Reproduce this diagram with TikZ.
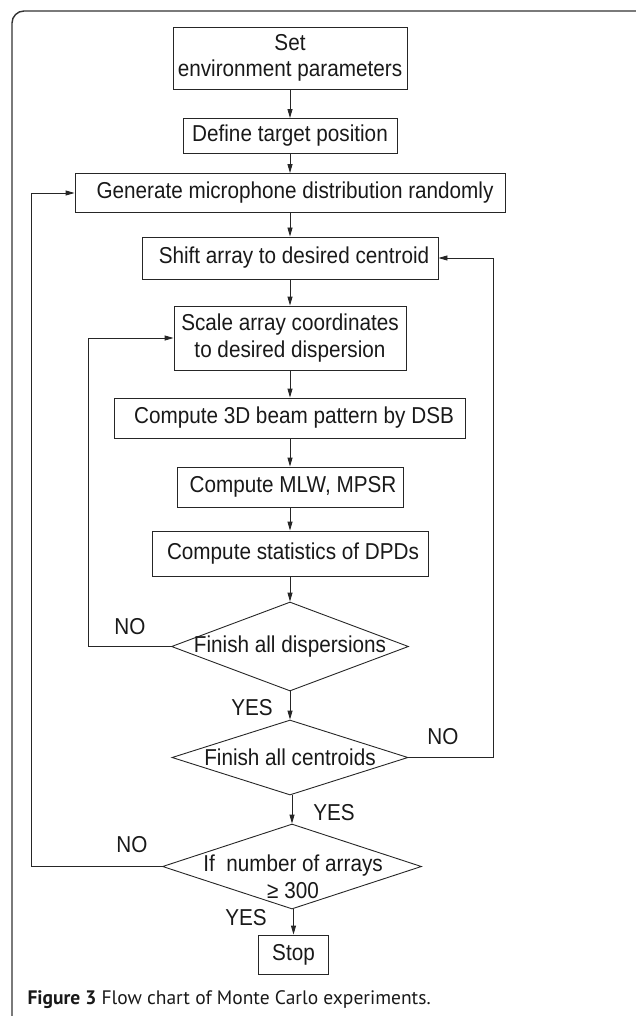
\documentclass[tikz,border=0pt]{standalone}
\usepackage{fontspec}
\setmainfont{Liberation Sans}
\newfontfamily\flowfont[FakeStretch=0.9]{Liberation Sans}
\newfontfamily\capfont{PT Sans}
\usetikzlibrary{shapes.geometric,arrows.meta}

\begin{document}
\begin{tikzpicture}[x=1pt, y=-1pt,
        every node/.style={font=\flowfont\fontsize{23}{26.5}\selectfont, text=black!90},
        box/.style={draw=black!85, line width=0.9pt, inner sep=0pt, align=center},
        decide/.style={draw=black!85, line width=0.9pt, diamond, inner sep=0pt},
        flow/.style={draw=black!85, line width=0.9pt, -{Triangle[length=9pt,width=5pt]}}]
        \useasboundingbox (0,0) rectangle (636,1016);
        % frame
        \begin{scope}
            \clip (0,0) rectangle (636,1016);
            \draw[line width=1.4pt, black!80, rounded corners=12pt] (12,11) rectangle (650,1040);
        \end{scope}

        \node[name=env, box, minimum width=234, minimum height=62] at (290,58) {Set\\environment parameters};
        \node[name=target, box, minimum width=214, minimum height=35] at (290,136) {Define target position};
        \node[name=gen, box, minimum width=430, minimum height=39] at (290,193) {\hspace{10pt}Generate microphone distribution randomly};
        \node[name=shift, box, minimum width=296, minimum height=42] at (290,258) {\hspace{8pt}Shift array to desired centroid};
        \node[name=scale, box, minimum width=232, minimum height=64] at (290,338) {Scale array coordinates\\to desired dispersion};
        \node[name=beam, box, minimum width=351, minimum height=40] at (290,418) {\hspace{8pt}Compute 3D beam pattern by DSB};
        \node[name=mlw, box, minimum width=226, minimum height=40] at (290,487) {\hspace{6pt}Compute MLW, MPSR};
        \node[name=stats, box, minimum width=276, minimum height=45] at (290,553.5) {\hspace{6pt}Compute statistics of DPDs};
        \node[name=fin1, decide, minimum width=237, minimum height=89] at (290,646.5) {};
        \node[name=fin1txt] at (fin1) {Finish all dispersions};
        \node[name=fin2, decide, minimum width=236, minimum height=75] at (290,757.5) {};
        \node[name=fin2txt] at (fin2) {Finish all centroids};
        \node[name=fin3, decide, minimum width=259, minimum height=85] at (292,866.5) {};
        \node[name=fin3txt, align=center] at (293,877) {If~ number of arrays\\≥ 300};
        \node[name=stop, box, minimum width=70, minimum height=39] at (293.5,954.5) {Stop};

        % straight arrows
        \foreach \a/\b in {env/target, target/gen, gen/shift, shift/scale, scale/beam,
                beam/mlw, mlw/stats, stats/fin1, fin1/fin2, fin2/fin3, fin3/stop}
            \draw[flow] (\b.north |- \a.south) -- (\b.north);

        % loops back
        \draw[flow] (fin1.west) -- ++(-83,0) |- (scale.west);
        \draw[flow] (fin2.east) -- ++(85,0) |- (shift.east);
        \draw[flow] (fin3.west) -- ++(-131,0) |- (gen.west);

        \node[name=no1] at (130,627) {NO};
        \node[name=yes1] at (252,708) {YES};
        \node[name=no2] at (443,737) {NO};
        \node[name=yes2] at (334,813) {YES};
        \node[name=no3] at (132,845) {NO};
        \node[name=yes3] at (246,918) {YES};

        \node[name=caption, anchor=west, font=\capfont\fontsize{19.5}{22}\selectfont, text=black!90] at (24,1000)
            {\textbf{Figure 3} Flow chart of Monte Carlo experiments.};
    \end{tikzpicture}
\end{document}
